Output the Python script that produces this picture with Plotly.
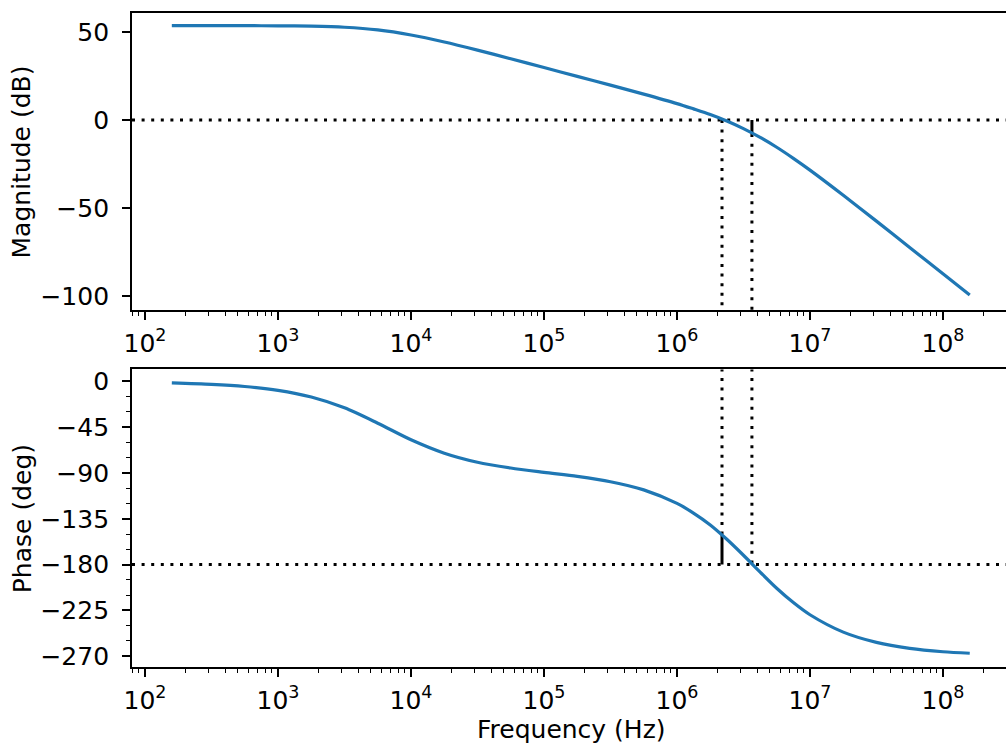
import plotly.graph_objects as go

# ---- data ----
freq_hz = [159, 316, 562, 1000, 1780, 3160, 5620,
           1.0e4, 1.78e4, 3.16e4, 5.62e4,
           1.0e5, 1.78e5, 3.16e5, 5.62e5,
           1.0e6, 1.33e6, 1.78e6, 2.37e6, 3.16e6, 4.22e6, 5.62e6, 7.5e6,
           1.0e7, 1.78e7, 3.16e7, 5.62e7, 1.0e8, 1.59e8]
magnitude_db = [53.6, 53.6, 53.6, 53.5, 53.3, 52.7, 51.2,
                48.3, 44.3, 39.7, 34.8,
                29.8, 24.8, 19.8, 14.7,
                9.3, 6.3, 3.1, -0.6, -4.9, -9.9, -15.5, -21.8,
                -28.5, -42.8, -57.5, -72.5, -87.4, -99.5]
phase_deg = [-1.4, -2.8, -4.9, -8.7, -15.3, -25.9, -41.0,
             -57.3, -70.5, -79.4, -85.1,
             -89.4, -93.4, -98.6, -106.6,
             -119.9, -129.4, -141.1, -155.2, -170.9, -187.4, -203.3, -217.4,
             -229.4, -246.5, -256.6, -262.5, -265.8, -267.3]

gain_cross_hz = 2.18e6      # |G| = 0 dB
phase_cross_hz = 3.66e6     # phase = -180 deg
phase_at_gain_cross = -151.0
mag_at_phase_cross = -8.0
phase_limit = -180.0

x_ticks = [1e2, 1e3, 1e4, 1e5, 1e6, 1e7, 1e8]
x_tick_text = ["10<sup>2</sup>", "10<sup>3</sup>", "10<sup>4</sup>", "10<sup>5</sup>",
               "10<sup>6</sup>", "10<sup>7</sup>", "10<sup>8</sup>"]
x_minor = [k * 10 ** n for n in range(1, 9) for k in range(2, 10)]
mag_ticks = [50, 0, -50, -100]
phase_ticks = [0, -45, -90, -135, -180, -225, -270]

BLUE = "#1f77b4"
FONT = "DejaVu Sans"
FS = 25
DOT = "3px,6.6px"

fig = go.Figure()

# margin lines (drawn first so the curve sits on top)
fig.add_trace(go.Scatter(x=[gain_cross_hz, gain_cross_hz], y=[0, -400], mode="lines",
                         line=dict(color="black", width=3, dash=DOT), xaxis="x", yaxis="y",
                         showlegend=False))
fig.add_trace(go.Scatter(x=[phase_cross_hz, phase_cross_hz], y=[mag_at_phase_cross, -400], mode="lines",
                         line=dict(color="black", width=3, dash=DOT), xaxis="x", yaxis="y",
                         showlegend=False))
fig.add_trace(go.Scatter(x=[phase_cross_hz, phase_cross_hz], y=[0, mag_at_phase_cross], mode="lines",
                         line=dict(color="black", width=3), xaxis="x", yaxis="y",
                         showlegend=False))

fig.add_trace(go.Scatter(x=[phase_cross_hz, phase_cross_hz], y=[400, phase_limit], mode="lines",
                         line=dict(color="black", width=3, dash=DOT), xaxis="x2", yaxis="y2",
                         showlegend=False))
fig.add_trace(go.Scatter(x=[gain_cross_hz, gain_cross_hz], y=[400, phase_at_gain_cross], mode="lines",
                         line=dict(color="black", width=3, dash=DOT), xaxis="x2", yaxis="y2",
                         showlegend=False))
fig.add_trace(go.Scatter(x=[gain_cross_hz, gain_cross_hz], y=[phase_at_gain_cross, phase_limit], mode="lines",
                         line=dict(color="black", width=3), xaxis="x2", yaxis="y2",
                         showlegend=False))

# curves
fig.add_trace(go.Scatter(x=freq_hz, y=magnitude_db, mode="lines",
                         line=dict(color=BLUE, width=3.2, shape="spline", smoothing=0.8),
                         xaxis="x", yaxis="y", showlegend=False))
fig.add_trace(go.Scatter(x=freq_hz, y=phase_deg, mode="lines",
                         line=dict(color=BLUE, width=3.2, shape="spline", smoothing=0.8),
                         xaxis="x2", yaxis="y2", showlegend=False))

# horizontal reference lines
fig.add_shape(type="line", xref="x domain", x0=0, x1=1, yref="y", y0=0, y1=0,
              line=dict(color="black", width=3, dash=DOT), layer="below")
fig.add_shape(type="line", xref="x2 domain", x0=0, x1=1, yref="y2", y0=phase_limit, y1=phase_limit,
              line=dict(color="black", width=3, dash=DOT), layer="below")

xr = [1.902, 8.474]
common_x = dict(type="log", range=xr, showline=True, linecolor="black", linewidth=1.8, mirror=True,
                ticks="outside", ticklen=8, tickwidth=1.8, tickcolor="black",
                tickvals=x_ticks, ticktext=x_tick_text, showgrid=False, zeroline=False,
                ticklabelstandoff=2,
                tickfont=dict(family=FONT, size=FS, color="black"),
                minor=dict(tickvals=x_minor, ticks="outside", ticklen=4.5, tickwidth=1.3,
                           tickcolor="black", showgrid=False))
common_y = dict(showline=True, linecolor="black", linewidth=1.8, mirror=False,
                ticks="outside", ticklen=8, tickwidth=1.8, tickcolor="black",
                showgrid=False, zeroline=False, ticklabelstandoff=8,
                tickfont=dict(family=FONT, size=FS, color="black"))

fig.update_layout(
    width=1006, height=750,
    margin=dict(l=132, r=0, t=13, b=83),
    paper_bgcolor="white", plot_bgcolor="white",
    font=dict(family=FONT, size=FS, color="black"),
    xaxis=dict(anchor="y", domain=[0, 1], **common_x),
    yaxis=dict(anchor="x", domain=[0.5459, 1], range=[-108.0, 60.8], tickvals=mag_ticks, **common_y),
    xaxis2=dict(anchor="y2", domain=[0, 1], **common_x),
    yaxis2=dict(anchor="x2", domain=[0, 0.4549], range=[-280.8, 11.8], tickvals=phase_ticks,
                minor=dict(dtick=15, ticks="outside", ticklen=4.5, tickwidth=1.3, tickcolor="black",
                           showgrid=False),
                **common_y),
    annotations=[
        dict(text="Magnitude (dB)", xref="paper", yref="y domain", x=-0.1259, y=0.5,
             xanchor="center", yanchor="middle", textangle=-90, showarrow=False,
             font=dict(family=FONT, size=FS, color="black")),
        dict(text="Phase (deg)", xref="paper", yref="y2 domain", x=-0.1259, y=0.5,
             xanchor="center", yanchor="middle", textangle=-90, showarrow=False,
             font=dict(family=FONT, size=FS, color="black")),
        dict(text="Frequency (Hz)", xref="paper", yref="paper", x=0.5029, y=-0.0963,
             xanchor="center", yanchor="middle", showarrow=False,
             font=dict(family=FONT, size=FS, color="black")),
    ],
)

fig.write_html("out.html", config={"displayModeBar": False},
               post_script="document.body.style.margin='0';")
